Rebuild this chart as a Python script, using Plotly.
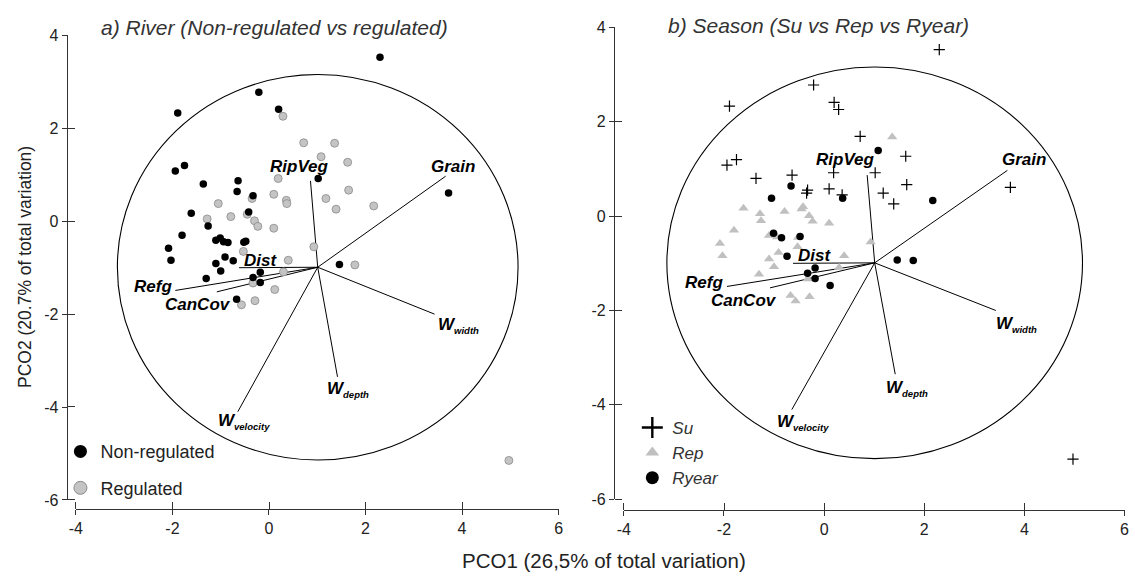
import plotly.graph_objects as go

# ---------------- data ----------------
pco1 = [2.30, -0.21, 0.20, -1.89, -1.75, -1.94, -1.36, -0.64, -0.66, -0.33, 1.02, 3.72,
        -1.61, -0.42, -1.26, -1.80, -2.08, -2.03, -1.10, -1.01, -0.94, -0.85, -0.52, -0.48,
        -0.91, -0.74, -1.10, -1.00, -1.30, 1.46, -0.18, -0.33, -0.18, -0.67,
        0.29, 0.72, 1.36, 1.08, 1.63, 0.19, 1.65, 0.10, -0.35, 0.36, 0.37, 1.18, 1.39, 2.17,
        -0.45, -0.30, -0.23, 0.10, -1.05, -1.28, -0.79, -0.53, 0.93, 0.40, 1.78, 0.30,
        -0.33, 0.12, -0.57, -0.29, 4.97]
pco2 = [3.53, 2.78, 2.41, 2.33, 1.20, 1.08, 0.80, 0.87, 0.64, 0.55, 0.92, 0.61,
        0.17, 0.20, -0.10, -0.30, -0.58, -0.84, -0.41, -0.36, -0.44, -0.46, -0.45, -0.43,
        -0.77, -0.85, -0.91, -1.07, -1.23, -0.93, -1.10, -1.21, -1.32, -1.68,
        2.26, 1.69, 1.68, 1.39, 1.27, 0.92, 0.67, 0.58, 0.49, 0.45, 0.38, 0.49, 0.26, 0.33,
        0.15, 0.01, -0.11, -0.15, 0.38, 0.05, 0.10, -0.65, -0.55, -0.84, -0.94, -1.09,
        -1.33, -1.47, -1.80, -1.71, -5.15]
river = ["Non-regulated"] * 34 + ["Regulated"] * 31
season = ["Su", "Su", "Su", "Su", "Su", "Su", "Su", "Su", "Ryear", "Su", "Su", "Su",
          "Rep", "Rep", "Rep", "Rep", "Rep", "Rep", "Rep", "Ryear", "Rep", "Ryear", "Rep", "Ryear",
          "Rep", "Ryear", "Rep", "Rep", "Rep", "Ryear", "Ryear", "Ryear", "Ryear", "Rep",
          "Su", "Su", "Rep", "Ryear", "Su", "Su", "Su", "Su", "Su", "Su", "Ryear", "Su", "Su", "Ryear",
          "Rep", "Rep", "Rep", "Rep", "Ryear", "Rep", "Rep", "Rep", "Rep", "Rep", "Ryear", "Rep",
          "Rep", "Ryear", "Rep", "Rep", "Su"]

vec_names = ["Grain", "RipVeg", "Dist", "Refg", "CanCov", "W_width", "W_depth", "W_velocity"]
vec_x = [3.66, 0.86, -0.62, -1.94, -1.08, 3.43, 1.42, -0.645]
vec_y = [0.97, 0.87, -1.00, -1.49, -1.52, -2.00, -3.35, -4.10]
vec_origin = (1.01, -0.99)
circle_radius = 4.15

x_ticks = [-4, -2, 0, 2, 4, 6]
x_ticktext = ["-4", "-2", "0", "2", "4", "6"]
y_ticks = [4, 2, 0, -2, -4, -6]
y_ticktext = ["4", "2", "0", "-2", "-4", "-6"]

# ---------------- style ----------------
FONT = "Liberation Sans, Arial, sans-serif"
W, H = 1135, 583


def px_x(p):
    return p / W


def px_y(p):
    return (H - p) / H


fig = go.Figure()


def vector_trace(xa, ya):
    xs, ys = [], []
    for ex, ey in zip(vec_x, vec_y):
        xs += [vec_origin[0], ex, None]
        ys += [vec_origin[1], ey, None]
    return go.Scatter(x=xs, y=ys, mode="lines", line=dict(color="black", width=1),
                      xaxis=xa, yaxis=ya, showlegend=False, hoverinfo="skip")


fig.add_trace(vector_trace("x", "y"))
fig.add_trace(vector_trace("x2", "y2"))

# panel a points
river_style = {
    "Regulated": dict(color="#c4c4c4", size=8, line=dict(color="#8a8a8a", width=0.8)),
    "Non-regulated": dict(color="black", size=7.5, line=dict(width=0)),
}
for grp in ["Regulated", "Non-regulated"]:
    xs = [a for a, g in zip(pco1, river) if g == grp]
    ys = [b for b, g in zip(pco2, river) if g == grp]
    fig.add_trace(go.Scatter(x=xs, y=ys, mode="markers", marker=river_style[grp],
                             xaxis="x", yaxis="y", showlegend=False))

# panel b points
season_style = {
    "Su": dict(symbol="cross-thin", size=8, color="black", line=dict(color="black", width=1.2)),
    "Rep": dict(symbol="triangle-up", size=9, color="#c0c0c0", line=dict(width=0)),
    "Ryear": dict(symbol="circle", size=7.5, color="black", line=dict(width=0)),
}
for grp in ["Su", "Rep", "Ryear"]:
    xs = [a for a, g in zip(pco1, season) if g == grp]
    ys = [b for b, g in zip(pco2, season) if g == grp]
    fig.add_trace(go.Scatter(x=xs, y=ys, mode="markers", marker=season_style[grp],
                             xaxis="x2", yaxis="y2", showlegend=False))

# legend entries
legend_a = [("Non-regulated", dict(color="black", size=13, line=dict(width=0))),
            ("Regulated", dict(color="#c4c4c4", size=13, line=dict(color="#8a8a8a", width=1)))]
for name, mk in legend_a:
    fig.add_trace(go.Scatter(x=[None], y=[None], mode="markers", name=name, marker=mk,
                             xaxis="x", yaxis="y", legend="legend", legendgroup=name))
legend_b = [("Su", dict(symbol="cross-thin", size=15, color="black", line=dict(color="black", width=2.4))),
            ("Rep", dict(symbol="triangle-up", size=12, color="#c0c0c0", line=dict(width=0))),
            ("Ryear", dict(symbol="circle", size=13, color="black", line=dict(width=0)))]
for name, mk in legend_b:
    fig.add_trace(go.Scatter(x=[None], y=[None], mode="markers", name="<i>%s</i>" % name, marker=mk,
                             xaxis="x2", yaxis="y2", legend="legend2", legendgroup=name))

# circles
for xr, yr in [("x", "y"), ("x2", "y2")]:
    fig.add_shape(type="circle", xref=xr, yref=yr,
                  x0=vec_origin[0] - circle_radius, x1=vec_origin[0] + circle_radius,
                  y0=vec_origin[1] - circle_radius, y1=vec_origin[1] + circle_radius,
                  line=dict(color="black", width=1.1), layer="below")


def lab(name):
    if name.startswith("W_"):
        return ("<b><i>W<sub><span style='font-size:9.5px'>%s</span></sub></i></b>" % name[2:])
    return "<b><i>%s</i></b>" % name


label_pos = {
    "x": {"Grain": (3.81, 1.18, "center"), "RipVeg": (0.63, 1.18, "center"),
          "Dist": (-0.18, -0.84, "center"), "Refg": (-2.40, -1.40, "center"),
          "CanCov": (-1.47, -1.80, "center"), "W_width": (3.45, -2.24, "left"),
          "W_depth": (1.16, -3.62, "left"), "W_velocity": (-1.10, -4.31, "left")},
    "x2": {"Grain": (4.00, 1.19, "center"), "RipVeg": (0.42, 1.19, "center"),
           "Dist": (-0.19, -0.84, "center"), "Refg": (-2.40, -1.41, "center"),
           "CanCov": (-1.60, -1.78, "center"), "W_width": (3.40, -2.30, "left"),
           "W_depth": (1.20, -3.66, "left"), "W_velocity": (-0.98, -4.38, "left")},
}
for xr, yr in [("x", "y"), ("x2", "y2")]:
    for name in vec_names:
        lx, ly, anc = label_pos[xr][name]
        fig.add_annotation(x=lx, y=ly, xref=xr, yref=yr, text=lab(name), showarrow=False,
                           xanchor=anc, yanchor="middle",
                           font=dict(family=FONT, size=17, color="black"))

# panel titles
fig.add_annotation(x=px_x(270), y=px_y(20), xref="paper", yref="paper",
                   text="<i>a) River (Non-regulated vs regulated)</i>", showarrow=False,
                   font=dict(family=FONT, size=21, color="#333"), xanchor="center", yanchor="middle")
fig.add_annotation(x=px_x(820), y=px_y(18), xref="paper", yref="paper",
                   text="<i>b) Season (Su vs Rep vs Ryear)</i>", showarrow=False,
                   font=dict(family=FONT, size=21, color="#333"), xanchor="center", yanchor="middle")
# axis titles
fig.add_annotation(x=px_x(603), y=px_y(569), xref="paper", yref="paper",
                   text="PCO1 (26,5% of total variation)", showarrow=False,
                   font=dict(family=FONT, size=20.5, color="#222"), xanchor="center", yanchor="middle")
fig.add_annotation(x=px_x(18), y=px_y(267), xref="paper", yref="paper", textangle=-90,
                   text="PCO2 (20.7% of total variation)", showarrow=False,
                   font=dict(family=FONT, size=17.5, color="#222"), xanchor="center", yanchor="middle")

LINE = "#333"


def axis(rng, vals, text, domain, pos):
    eps = 0.002
    return dict(range=rng, autorange=False, domain=domain, anchor="free", position=pos,
                showgrid=False, zeroline=False, tickmode="array", tickvals=vals, ticktext=text,
                ticks="outside", ticklen=5, tickcolor=LINE, tickwidth=1.2,
                showline=True, linecolor=LINE, linewidth=1.2,
                minor=dict(tickmode="array", tickvals=[v + eps for v in vals], ticks="inside",
                           ticklen=7, tickcolor=LINE, tickwidth=1.2, showgrid=False),
                tickfont=dict(family=FONT, size=16, color="#222"))


dom_xa = [px_x(69.6), px_x(557.5)]
dom_ya = [px_y(506.7), px_y(28.3)]
dom_xb = [px_x(623.4), px_x(1129.5)]
dom_yb = [px_y(506.0), px_y(20.0)]

fig.update_layout(
    width=W, height=H, margin=dict(l=0, r=0, t=0, b=0),
    paper_bgcolor="white", plot_bgcolor="rgba(0,0,0,0)",
    xaxis=axis([-4, 6], x_ticks, x_ticktext, dom_xa, px_y(515.7)),
    yaxis=axis([-6, 4], y_ticks, y_ticktext, dom_ya, px_x(60.3)),
    xaxis2=axis([-4, 6], x_ticks, x_ticktext, dom_xb, px_y(516.7)),
    yaxis2=axis([-6, 4], y_ticks, y_ticktext, dom_yb, px_x(613.4)),
    legend=dict(x=px_x(54), y=px_y(438), xanchor="left", yanchor="top",
                font=dict(family=FONT, size=18, color="#222"), bgcolor="rgba(0,0,0,0)",
                tracegroupgap=10),
    legend2=dict(x=px_x(632), y=px_y(414), xanchor="left", yanchor="top",
                 font=dict(family=FONT, size=17, color="#333"), bgcolor="rgba(0,0,0,0)",
                 tracegroupgap=0),
    showlegend=True,
)

fig.write_html("out.html")
